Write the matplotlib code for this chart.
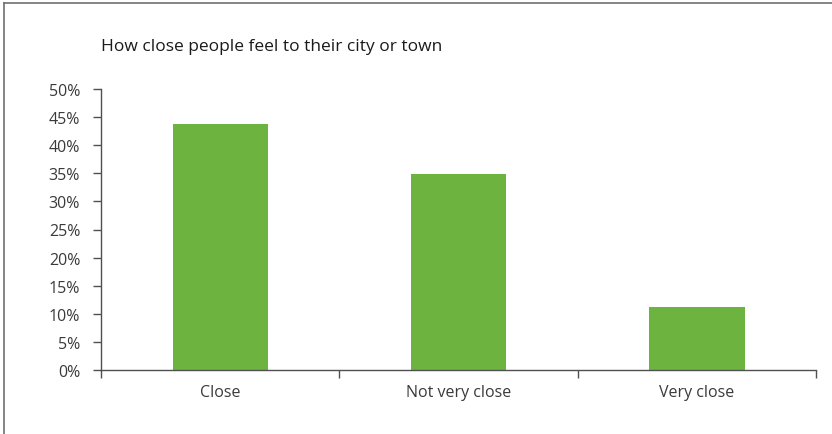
import numpy as np
import matplotlib
matplotlib.use('Agg')
import matplotlib.pyplot as plt
from matplotlib.lines import Line2D
from matplotlib.ticker import FixedLocator, PercentFormatter

categories = ['Close', 'Not very close', 'Very close']
shares = [43.8, 34.9, 11.2]
yticks = list(range(0, 55, 5))

GREEN = '#6DB33F'
TEXT = '#3a3a3a'
AXIS = '#505050'

plt.rcParams.update({'font.family': 'Open Sans', 'font.size': 11.5})

fig = plt.figure(figsize=(8.32, 4.35), dpi=100, facecolor='white')
ax = fig.add_axes([101/832, 1 - 371/435, 715/832, 281/435])

x = np.arange(len(categories))
ax.bar(x, shares, width=0.4, color=GREEN, zorder=2)
ax.set_xlim(-0.5, len(categories) - 0.5)
ax.set_ylim(0, 50)

ax.set_yticks(yticks)
ax.yaxis.set_major_formatter(PercentFormatter(decimals=0))
ax.tick_params(axis='y', length=6, width=1, color=AXIS, labelcolor=TEXT, pad=9, labelsize=11.5)

ax.xaxis.set_major_locator(FixedLocator(np.arange(len(categories) + 1) - 0.5))
ax.xaxis.set_major_formatter(plt.NullFormatter())
ax.xaxis.set_minor_locator(FixedLocator(x))
ax.set_xticklabels(categories, minor=True)
ax.tick_params(axis='x', which='major', length=6, width=1, color=AXIS)
ax.tick_params(axis='x', which='minor', length=0, pad=10, labelcolor=TEXT, labelsize=11.5)

for s in ['top', 'right']:
    ax.spines[s].set_visible(False)
for s in ['left', 'bottom']:
    ax.spines[s].set_color(AXIS)
    ax.spines[s].set_linewidth(1)

fig.text(101/832, 1 - 47/435, 'How close people feel to their city or town',
         fontsize=12.5, color='#1a1a1a', va='center', ha='left')

# outer frame (left and top edges visible)
fig.add_artist(Line2D([4/832, 4/832], [0, 1 - 4/435], transform=fig.transFigure, color='#6f6f6f', lw=1.2))
fig.add_artist(Line2D([4/832, 1], [1 - 4/435, 1 - 4/435], transform=fig.transFigure, color='#6f6f6f', lw=1.2))

fig.savefig('out.png', dpi=100, facecolor='white')
